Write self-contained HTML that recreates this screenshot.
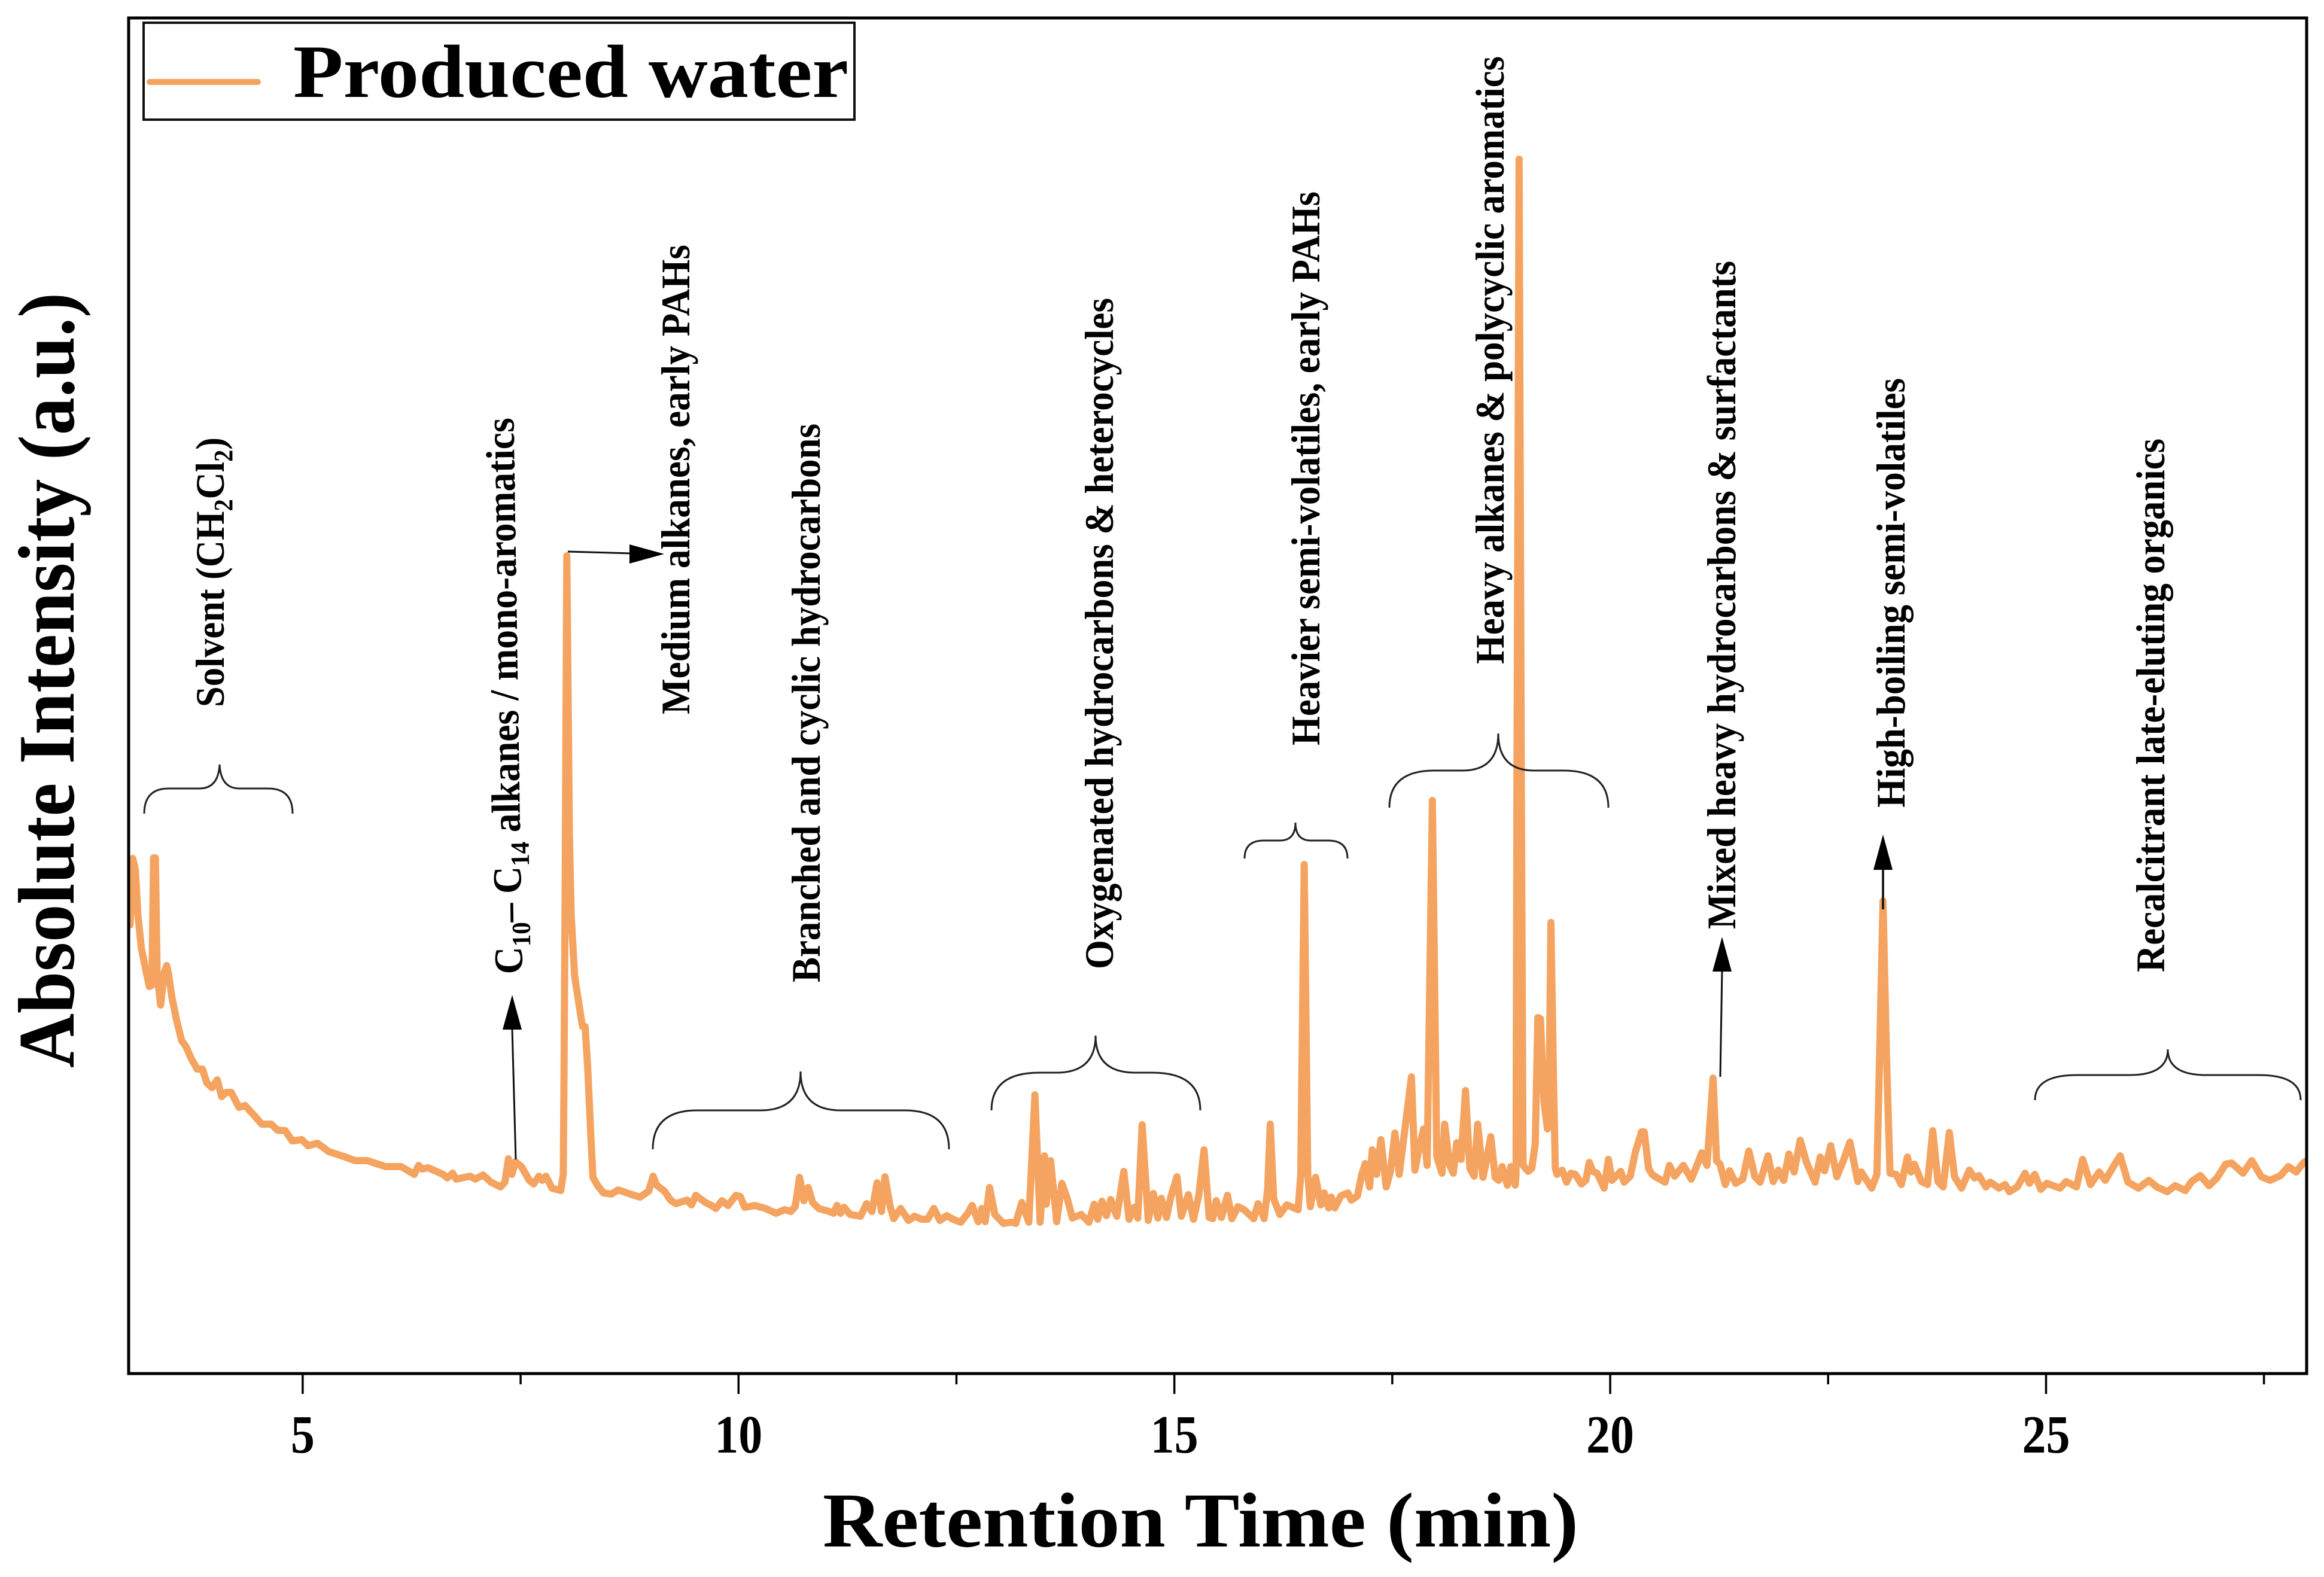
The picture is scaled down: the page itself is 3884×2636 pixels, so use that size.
<!DOCTYPE html>
<html>
<head>
<meta charset="utf-8">
<title>Produced water chromatogram</title>
<style>
html,body{margin:0;padding:0;background:#fff;}
svg{display:block;}
text{font-family:"Liberation Serif",serif;font-weight:bold;fill:#000;}
</style>
</head>
<body>
<svg id="chart" xmlns="http://www.w3.org/2000/svg" width="3884" height="2636" viewBox="0 0 3884 2636">
<rect x="0" y="0" width="3884" height="2636" fill="#fff"/>
<clipPath id="plot-clip"><rect x="215" y="30" width="3640" height="2266"/></clipPath>
<g id="series" clip-path="url(#plot-clip)"></g>
<rect x="215" y="30" width="3640" height="2266" fill="none" stroke="#000" stroke-width="5"/>
<g id="ticks"></g>
<g>
<rect x="240" y="38" width="1188" height="162" fill="#fff" stroke="#111" stroke-width="4"/>
<line x1="250" y1="137" x2="431" y2="137" stroke="#f4a460" stroke-width="10" stroke-linecap="round"/>
<text x="490" y="162" font-size="126" textLength="928" lengthAdjust="spacingAndGlyphs">Produced water</text>
</g>
<text x="1375" y="2585" font-size="130" textLength="1263" lengthAdjust="spacingAndGlyphs">Retention Time (min)</text>
<text transform="translate(123,1785) rotate(-90)" font-size="134" textLength="1296" lengthAdjust="spacingAndGlyphs">Absolute Intensity (a.u.)</text>
<g font-size="68">
<text transform="translate(374,1182) rotate(-90)" font-size="68" textLength="451" lengthAdjust="spacingAndGlyphs">Solvent (CH<tspan font-size="44" dy="14">2</tspan><tspan dy="-14">Cl</tspan><tspan font-size="44" dy="14">2</tspan><tspan dy="-14">)</tspan></text>
<text transform="translate(873,1628) rotate(-90.9)" font-size="68" textLength="930" lengthAdjust="spacingAndGlyphs">C<tspan font-size="44" dy="14">10</tspan><tspan dy="-14">– C</tspan><tspan font-size="44" dy="14">14</tspan><tspan dy="-14"> alkanes / mono-aromatics</tspan></text>
<text transform="translate(1152,1194) rotate(-90)" font-size="68" textLength="785" lengthAdjust="spacingAndGlyphs">Medium alkanes, early PAHs</text>
<text transform="translate(1370,1642) rotate(-90)" font-size="68" textLength="934" lengthAdjust="spacingAndGlyphs">Branched and cyclic hydrocarbons</text>
<text transform="translate(1860,1620) rotate(-90)" font-size="68" textLength="1122" lengthAdjust="spacingAndGlyphs">Oxygenated hydrocarbons &amp; heterocycles</text>
<text transform="translate(2205,1246) rotate(-90)" font-size="68" textLength="926" lengthAdjust="spacingAndGlyphs">Heavier semi-volatiles, early PAHs</text>
<text transform="translate(2513,1110) rotate(-90)" font-size="68" textLength="1016" lengthAdjust="spacingAndGlyphs">Heavy alkanes &amp; polycyclic aromatics</text>
<text transform="translate(2900,1553) rotate(-90)" font-size="68" textLength="1117" lengthAdjust="spacingAndGlyphs">Mixed heavy hydrocarbons &amp; surfactants</text>
<text transform="translate(3183,1350) rotate(-90)" font-size="68" textLength="718" lengthAdjust="spacingAndGlyphs">High-boiling semi-volatiles</text>
<text transform="translate(3617,1625) rotate(-90)" font-size="68" textLength="892" lengthAdjust="spacingAndGlyphs">Recalcitrant late-eluting organics</text>
</g>
<g fill="none" stroke="#222" stroke-width="3">
<path d="M241,1360 Q241,1318 282,1318 L333,1318 Q365,1318 367,1278 Q369,1318 400,1318 L448,1318 Q489,1318 489,1360"/>
<path d="M1091,1921 Q1091,1856 1165,1856 L1271,1856 Q1338,1856 1338,1791 Q1338,1856 1405,1856 L1512,1856 Q1586,1856 1586,1921"/>
<path d="M1657,1856 Q1657,1793 1737,1793 L1765,1793 Q1831,1793 1831,1731 Q1831,1793 1897,1793 L1926,1793 Q2006,1793 2006,1856"/>
<path d="M2080,1435 Q2080,1405 2112,1405 L2139,1405 Q2165,1405 2165,1375 Q2165,1405 2191,1405 L2220,1405 Q2252,1405 2252,1435"/>
<path d="M2322,1350 Q2322,1288 2397,1288 L2444,1288 Q2504,1288 2504,1226 Q2504,1288 2564,1288 L2613,1288 Q2688,1288 2688,1350"/>
<path d="M3401,1839 Q3401,1797 3471,1797 L3559,1797 Q3623,1797 3623,1754 Q3623,1797 3687,1797 L3775,1797 Q3845,1797 3845,1839"/>
</g>
<g stroke="#111" stroke-width="3" fill="#000">
<line x1="862" y1="1938" x2="856" y2="1720"/>
<polygon stroke="none" points="856,1663 840,1721 872,1721"/>
<line x1="949" y1="922" x2="1055" y2="925"/>
<polygon stroke="none" points="1110,926 1052,910 1052,942"/>
<line x1="2875" y1="1800" x2="2878" y2="1623"/>
<polygon stroke="none" points="2878,1566 2862,1624 2894,1624"/>
</g>
<g id="top-arrow"></g>
</svg>
<script>
const xTicksMajor = [5, 10, 15, 20, 25];
const xTicksMinor = [7.5, 12.5, 17.5, 22.5, 27.5];
const xTickLabels = ["5", "10", "15", "20", "25"];
const retentionTimes = [
3.02,3.05,3.08,3.11,3.15,3.20,3.24,3.27,3.29,3.31,
3.33,3.37,3.41,3.44,3.46,3.50,3.55,3.61,3.66,3.72,
3.79,3.85,3.90,3.96,4.02,4.07,4.12,4.18,4.27,4.34,
4.44,4.53,4.64,4.71,4.80,4.88,4.99,5.06,5.17,5.30,
5.47,5.60,5.74,5.95,6.13,6.28,6.33,6.37,6.44,6.61,
6.66,6.72,6.76,6.92,6.98,7.07,7.16,7.27,7.32,7.36,
7.40,7.44,7.51,7.60,7.65,7.71,7.75,7.79,7.86,7.96,
7.99,8.00,8.01,8.03,8.06,8.08,8.12,8.19,8.21,8.24,
8.27,8.31,8.33,8.38,8.45,8.54,8.62,8.76,8.87,8.97,
9.02,9.06,9.15,9.22,9.28,9.41,9.46,9.51,9.62,9.69,
9.74,9.81,9.88,9.97,10.02,10.07,10.19,10.31,10.43,10.53,
10.60,10.65,10.70,10.75,10.80,10.85,10.92,11.04,11.09,11.13,
11.17,11.21,11.28,11.40,11.47,11.53,11.59,11.64,11.68,11.74,
11.78,11.86,11.95,12.02,12.10,12.17,12.24,12.31,12.39,12.46,
12.55,12.63,12.68,12.75,12.79,12.83,12.88,12.94,13.04,13.13,
13.18,13.25,13.33,13.40,13.46,13.51,13.53,13.58,13.65,13.71,
13.77,13.83,13.93,14.02,14.08,14.12,14.17,14.22,14.27,14.34,
14.42,14.48,14.54,14.58,14.63,14.70,14.76,14.81,14.85,14.91,
14.96,15.03,15.08,15.16,15.22,15.28,15.34,15.40,15.44,15.48,
15.54,15.61,15.66,15.73,15.80,15.91,15.96,16.03,16.07,16.10,
16.14,16.21,16.29,16.42,16.45,16.49,16.53,16.56,16.62,16.68,
16.72,16.77,16.80,16.84,16.91,16.99,17.03,17.10,17.15,17.19,
17.24,17.27,17.32,17.37,17.43,17.48,17.53,17.58,17.64,17.72,
17.76,17.81,17.86,17.90,17.96,18.01,18.07,18.10,18.16,18.20,
18.24,18.29,18.34,18.39,18.44,18.48,18.54,18.57,18.63,18.68,
18.72,18.76,18.82,18.86,18.91,18.92,18.93,18.955,18.98,19.00,
19.06,19.10,19.14,19.17,19.20,19.24,19.28,19.30,19.32,19.35,
19.37,19.39,19.45,19.50,19.55,19.60,19.67,19.72,19.76,19.80,
19.85,19.93,19.98,20.02,20.12,20.16,20.23,20.29,20.36,20.39,
20.44,20.48,20.53,20.63,20.68,20.74,20.84,20.93,20.99,21.05,
21.11,21.18,21.22,21.26,21.32,21.37,21.44,21.52,21.59,21.66,
21.72,21.81,21.87,21.93,21.99,22.05,22.11,22.18,22.25,22.35,
22.41,22.46,22.53,22.60,22.68,22.75,22.84,22.88,23.00,23.06,
23.09,23.13,23.17,23.21,23.28,23.34,23.41,23.45,23.49,23.57,
23.64,23.70,23.76,23.82,23.89,23.95,24.03,24.12,24.18,24.23,
24.31,24.36,24.46,24.53,24.58,24.67,24.76,24.81,24.87,24.94,
25.01,25.16,25.23,25.35,25.42,25.51,25.61,25.68,25.78,25.85,
25.94,26.06,26.18,26.27,26.39,26.48,26.60,26.67,26.77,26.87,
26.96,27.06,27.13,27.26,27.36,27.47,27.57,27.69,27.78,27.87,
27.95,27.99
];
const intensities = [
75.0,86.1,84.3,76.6,71.0,67.5,64.7,64.9,86.2,86.2,
66.9,61.6,66.9,68.2,66.9,62.9,59.3,55.7,54.7,52.7,
50.9,50.9,48.6,47.8,49.1,46.3,47.0,47.0,44.5,44.8,
43.2,41.7,41.7,40.7,40.6,38.9,39.1,38.1,38.5,37.1,
36.3,35.6,35.6,34.6,34.6,33.3,34.8,34.2,34.4,33.3,
32.7,33.5,32.5,33.0,32.5,33.2,32.0,31.2,32.0,35.9,
33.3,35.4,34.6,32.3,31.7,33.0,32.3,33.0,31.0,30.6,
33.3,53.7,79.2,136.7,90,76.6,66.4,59.8,58,58,
51.1,38.4,32.8,31.5,30.2,30,30.7,30,29.5,30.5,
33,31.5,30.5,29,28.4,29,28.2,29.8,28.6,28.1,
27.6,28.9,28.1,29.8,29.6,27.8,28.1,27.6,26.8,27.4,
27.1,27.9,32.8,28.9,31.1,28.6,27.6,27.1,26.8,28.1,
26.8,27.8,26.6,26.3,28.4,27.1,31.9,27.1,32.9,27.9,
25.9,27.6,25.6,26.3,25.8,25.8,27.6,25.6,26.4,25.8,
25.3,26.8,28.1,25.4,27.6,25.4,31.1,26.6,25.1,25.3,
25.1,28.6,25.3,46.6,25.3,36.4,28.3,35.6,25.4,31.8,
29.3,26,26.6,25.3,28.3,25.8,28.8,26.4,29.1,26.3,
33.8,25.8,27.8,26,41.6,25.6,30.1,26,29.3,26.1,
29.6,32.9,26.3,29.9,25.8,29.8,37.4,26.1,25.9,28.9,
26.1,29.8,25.9,27.9,27.4,25.9,28.4,25.9,30.7,41.7,
29.2,26.6,28.2,27.4,33.3,85.1,33.3,27.9,32.8,28.2,
30.2,27.7,29.5,27.7,29.7,30.2,29,29.7,33.3,35.1,
31.2,37.4,33.3,39.1,31.2,33.8,40.2,33.3,40.4,49.6,
34,37.9,40.9,34.8,95.8,36.3,33.5,41.7,34.8,33.5,
38.6,35.8,47.3,34.3,33,41.7,32.8,34.8,39.6,32.8,
32.3,34.6,31.5,34.6,31.5,33.3,99.6,203,99.6,34.8,
33.8,34.3,38.4,59.5,59.3,45.5,40.9,48.6,75.4,48.6,
34.3,33.3,34,32,33.5,33.3,31.7,32.3,35.3,33.8,
33.5,31,35.8,32.3,33.8,32,33,37.1,40.4,40.4,
34.3,33.3,32.8,32,34.8,33,34.8,32.5,34.6,36.9,
34.8,49.4,35.6,35,31.6,33.9,31.8,32.5,37.2,32.9,
32,36.4,32.1,34,32.3,36.7,33.7,39,35.4,32,
36.2,33.9,38.1,32.9,35.8,38.7,32.1,33.7,31,33.3,
52.8,79,52.8,33.5,33.3,31.6,36.2,33.7,35,32.1,
31.6,40.6,32.1,31.2,40.3,32.9,31,34,32.7,33.1,
31.2,32,31,31.6,30.4,31.2,33.5,31.8,33.3,30.8,
31.8,31,32.1,31.2,35.8,31.6,33.7,32.3,34.8,36.4,
32,31,32.3,31.2,30.4,31.4,30.6,32.1,33.1,31.4,
32.7,35,35.2,33.5,35.6,32.9,32.3,33.1,34.6,33.7,
35.2,35.6
];

const NS = 'http://www.w3.org/2000/svg';
const xScale = function (t) { return 214.5 + (t - 3) * 145.68; };
const yScale = function (v) { return 2296 - v * 10; };

const seriesGroup = document.getElementById('series');
const trace = document.createElementNS(NS, 'path');


trace.setAttribute('fill', 'none');
trace.setAttribute('stroke', '#f4a460');
trace.setAttribute('stroke-width', '12');
trace.setAttribute('stroke-linejoin', 'round');
trace.setAttribute('stroke-linecap', 'round');
let d = '';
for (let i = 0; i < retentionTimes.length; i++) {
  d += (i === 0 ? 'M' : 'L') + xScale(retentionTimes[i]).toFixed(1) + ',' + yScale(intensities[i]).toFixed(1);
}
trace.setAttribute('d', d);
seriesGroup.appendChild(trace);

const tickGroup = document.getElementById('ticks');
xTicksMajor.forEach(function (t, i) {
  const tick = document.createElementNS(NS, 'line');
  
  
  tick.setAttribute('x1', xScale(t));
  tick.setAttribute('x2', xScale(t));
  tick.setAttribute('y1', 2296);
  tick.setAttribute('y2', 2330);
  tick.setAttribute('stroke', '#000');
  tick.setAttribute('stroke-width', '3.5');
  tickGroup.appendChild(tick);
  const label = document.createElementNS(NS, 'text');
  
  
  label.setAttribute('x', xScale(t));
  label.setAttribute('y', 2428);
  label.setAttribute('text-anchor', 'middle');
  label.setAttribute('font-size', '90');
  label.setAttribute('textLength', xTickLabels[i].length * 40);
  label.setAttribute('lengthAdjust', 'spacingAndGlyphs');
  label.textContent = xTickLabels[i];
  tickGroup.appendChild(label);
});
xTicksMinor.forEach(function (t) {
  const tick = document.createElementNS(NS, 'line');
  
  
  tick.setAttribute('x1', xScale(t));
  tick.setAttribute('x2', xScale(t));
  tick.setAttribute('y1', 2296);
  tick.setAttribute('y2', 2314);
  tick.setAttribute('stroke', '#000');
  tick.setAttribute('stroke-width', '3.5');
  tickGroup.appendChild(tick);
});

const topArrow = document.getElementById('top-arrow');
const shaft = document.createElementNS(NS, 'line');


shaft.setAttribute('x1', 3147);
shaft.setAttribute('y1', 1520);
shaft.setAttribute('x2', 3147);
shaft.setAttribute('y2', 1450);
shaft.setAttribute('stroke', '#222');
shaft.setAttribute('stroke-width', '4');
topArrow.appendChild(shaft);
const head = document.createElementNS(NS, 'polygon');


head.setAttribute('points', '3147,1395 3131,1454 3163,1454');
head.setAttribute('fill', '#000');
topArrow.appendChild(head);
</script>
</body>
</html>
